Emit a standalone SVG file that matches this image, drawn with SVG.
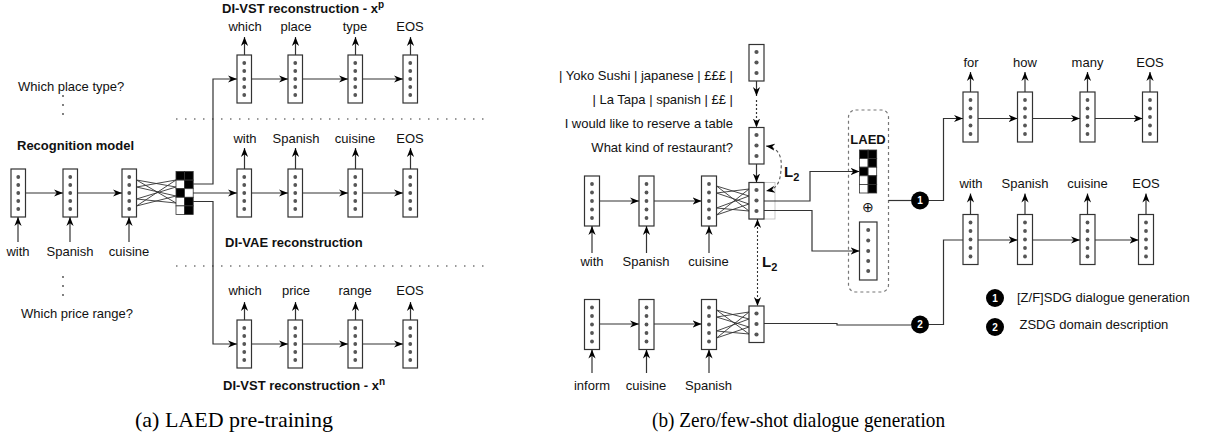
<svg xmlns="http://www.w3.org/2000/svg" xmlns:xlink="http://www.w3.org/1999/xlink" width="1211" height="441" viewBox="0 0 1211 441">
<style>
text{font-family:"Liberation Sans",Arial,sans-serif;fill:#111}
.lb{font-size:13px;text-anchor:middle}
.lt{font-size:13px}
.bd{font-size:13px;font-weight:bold}
.cap{font-family:"Liberation Serif","Times New Roman",serif;font-size:22px;fill:#000}
.cell{fill:#fff;stroke:#333;stroke-width:1.2}
.dot{fill:#555}
.ln{fill:none;stroke:#333;stroke-width:1.2}
.ar{fill:none;stroke:#333;stroke-width:1.2;marker-end:url(#ah)}
.x{stroke:#333;stroke-width:0.9}
.sep{stroke:#777;stroke-width:1.5;stroke-dasharray:1.5 7.5}
.blk{fill:#000;stroke:#333;stroke-width:0.8}
.wht{fill:#fff;stroke:#333;stroke-width:0.8}
.num{font-size:10px;font-weight:bold;fill:#fff;text-anchor:middle}
</style>
<defs>
<marker id="ah" viewBox="0 0 10 10" refX="10" refY="5" markerWidth="9" markerHeight="9" markerUnits="userSpaceOnUse" orient="auto-start-reverse">
<path d="M0,1 L10,5 L0,9 L3,5 z" fill="#000"/>
</marker>
<g id="c48"><rect class="cell" x="0" y="0" width="14.5" height="48"/><circle class="dot" cx="7.25" cy="8" r="1.9"/><circle class="dot" cx="7.25" cy="16" r="1.9"/><circle class="dot" cx="7.25" cy="24" r="1.9"/><circle class="dot" cx="7.25" cy="32" r="1.9"/><circle class="dot" cx="7.25" cy="40" r="1.9"/></g>
<g id="c50"><rect class="cell" x="0" y="0" width="15" height="50"/><circle class="dot" cx="7.5" cy="8" r="1.9"/><circle class="dot" cx="7.5" cy="16.5" r="1.9"/><circle class="dot" cx="7.5" cy="25" r="1.9"/><circle class="dot" cx="7.5" cy="33.5" r="1.9"/><circle class="dot" cx="7.5" cy="42" r="1.9"/></g>
<g id="c3"><rect class="cell" x="0" y="0" width="15" height="36.5"/><circle class="dot" cx="7.5" cy="7.5" r="2.1"/><circle class="dot" cx="7.5" cy="18" r="2.1"/><circle class="dot" cx="7.5" cy="28.5" r="2.1"/></g>
<g id="grid"><rect class="blk" x="0" y="0" width="8.6" height="8.6"/><rect class="blk" x="8.6" y="0" width="8.6" height="8.6"/><rect class="wht" x="0" y="8.6" width="8.6" height="8.6"/><rect class="blk" x="8.6" y="8.6" width="8.6" height="8.6"/><rect class="blk" x="0" y="17.2" width="8.6" height="8.6"/><rect class="wht" x="8.6" y="17.2" width="8.6" height="8.6"/><rect class="wht" x="0" y="25.8" width="8.6" height="8.6"/><rect class="blk" x="8.6" y="25.8" width="8.6" height="8.6"/><rect class="wht" x="0" y="34.4" width="8.6" height="8.6"/><rect class="blk" x="8.6" y="34.4" width="8.6" height="8.6"/></g>
</defs>

<!-- ===== (a) LAED pre-training ===== -->
<g id="a-texts">
<text class="lt" x="18" y="91">Which place type?</text>
<circle cx="63" cy="96" r="0.9" fill="#444"/><circle cx="63" cy="105" r="0.9" fill="#444"/><circle cx="63" cy="114" r="0.9" fill="#444"/>
<text class="bd" x="17" y="150">Recognition model</text>
<circle cx="63" cy="277" r="0.9" fill="#444"/><circle cx="63" cy="286" r="0.9" fill="#444"/><circle cx="63" cy="295" r="0.9" fill="#444"/>
<text class="lt" x="21" y="318">Which price range?</text>
<text class="bd" x="222" y="13">DI-VST reconstruction - x<tspan font-size="10" dy="-5">p</tspan></text>
<text class="bd" x="225" y="247">DI-VAE reconstruction</text>
<text class="bd" x="223" y="390">DI-VST reconstruction - x<tspan font-size="10" dy="-5">n</tspan></text>
<line class="sep" x1="176" y1="119" x2="484" y2="119"/>
<line class="sep" x1="176" y1="266" x2="484" y2="266"/>
</g>

<g id="a-enc-1"><use xlink:href="#c48" x="11" y="169"/><text class="lb" x="18" y="255.5">with</text></g>
<g id="a-enc-2"><use xlink:href="#c48" x="63" y="169"/><text class="lb" x="70" y="255.5">Spanish</text></g>
<g id="a-enc-3"><use xlink:href="#c48" x="122" y="169"/><text class="lb" x="129" y="255.5">cuisine</text></g>
<g id="a-latent"><use xlink:href="#grid" x="176" y="171.5"/></g>

<g id="a-top-1"><use xlink:href="#c48" x="237" y="55"/><text class="lb" x="245" y="31">which</text></g>
<g id="a-top-2"><use xlink:href="#c48" x="288" y="55"/><text class="lb" x="296" y="31">place</text></g>
<g id="a-top-3"><use xlink:href="#c48" x="348" y="55"/><text class="lb" x="355" y="31">type</text></g>
<g id="a-top-4"><use xlink:href="#c48" x="403" y="55"/><text class="lb" x="410" y="31">EOS</text></g>

<g id="a-mid-1"><use xlink:href="#c48" x="237" y="169"/><text class="lb" x="245" y="143">with</text></g>
<g id="a-mid-2"><use xlink:href="#c48" x="288" y="169"/><text class="lb" x="296" y="143">Spanish</text></g>
<g id="a-mid-3"><use xlink:href="#c48" x="348" y="169"/><text class="lb" x="355" y="143">cuisine</text></g>
<g id="a-mid-4"><use xlink:href="#c48" x="403" y="169"/><text class="lb" x="410" y="143">EOS</text></g>

<g id="a-bot-1"><use xlink:href="#c48" x="237" y="320"/><text class="lb" x="245" y="294.5">which</text></g>
<g id="a-bot-2"><use xlink:href="#c48" x="288" y="320"/><text class="lb" x="296" y="294.5">price</text></g>
<g id="a-bot-3"><use xlink:href="#c48" x="348" y="320"/><text class="lb" x="355" y="294.5">range</text></g>
<g id="a-bot-4"><use xlink:href="#c48" x="403" y="320"/><text class="lb" x="410" y="294.5">EOS</text></g>

<!-- ===== (b) Zero/few-shot ===== -->
<g id="b-texts">
<text class="lt" x="733" y="80" text-anchor="end">| Yoko Sushi | japanese | £££ |</text>
<text class="lt" x="733" y="104" text-anchor="end">| La Tapa | spanish | ££ |</text>
<text class="lt" x="733" y="128" text-anchor="end">I would like to reserve a table</text>
<text class="lt" x="733" y="152" text-anchor="end">What kind of restaurant?</text>
<text font-size="15" font-weight="bold" x="784" y="177">L<tspan font-size="11" dy="4">2</tspan></text>
<text font-size="15" font-weight="bold" x="762" y="267">L<tspan font-size="11" dy="4">2</tspan></text>
</g>

<g id="b-ctx-1"><use xlink:href="#c3" x="749" y="44.5"/></g>
<g id="b-ctx-2"><use xlink:href="#c3" x="749" y="127.5"/></g>
<g id="b-enc-c"><rect x="749" y="182.5" width="26" height="36.5" fill="none" stroke="#bbb" stroke-width="0.8"/><use xlink:href="#c3" x="749" y="182.5"/></g>

<g id="b-enc-1"><use xlink:href="#c50" x="584.5" y="176"/><text class="lb" x="592" y="266">with</text></g>
<g id="b-enc-2"><use xlink:href="#c50" x="639" y="176"/><text class="lb" x="646" y="266">Spanish</text></g>
<g id="b-enc-3"><use xlink:href="#c50" x="701.5" y="176"/><text class="lb" x="708.5" y="266">cuisine</text></g>

<g id="b-dom-1"><use xlink:href="#c50" x="584.5" y="299.5"/><text class="lb" x="592" y="390">inform</text></g>
<g id="b-dom-2"><use xlink:href="#c50" x="639" y="299.5"/><text class="lb" x="646" y="390">cuisine</text></g>
<g id="b-dom-3"><use xlink:href="#c50" x="701.5" y="299.5"/><text class="lb" x="708.5" y="390">Spanish</text></g>
<g id="b-dom-c"><use xlink:href="#c3" x="749" y="306"/></g>

<g id="b-laed">
<rect x="848.5" y="110" width="40" height="182" rx="7" fill="none" stroke="#777" stroke-width="1.2" stroke-dasharray="3 3"/>
<text class="bd" x="868" y="144" text-anchor="middle">LAED</text>
<use xlink:href="#grid" x="859.5" y="150"/>
<text x="868" y="212" font-family="DejaVu Sans,sans-serif" font-size="14" text-anchor="middle" fill="#333">⊕</text>
<rect class="cell" x="859.5" y="222" width="17.5" height="58"/>
<circle class="dot" cx="868.2" cy="230" r="2"/><circle class="dot" cx="868.2" cy="240.5" r="2"/><circle class="dot" cx="868.2" cy="251" r="2"/><circle class="dot" cx="868.2" cy="261" r="2"/><circle class="dot" cx="868.2" cy="271" r="2"/>
</g>

<g id="b-c1"><circle cx="920" cy="200.5" r="9" fill="#000"/><text class="num" x="920" y="204.2">1</text></g>
<g id="b-c2"><circle cx="920" cy="324.5" r="9" fill="#000"/><text class="num" x="920" y="328.2">2</text></g>

<g id="b-top-1"><use xlink:href="#c50" x="963" y="92"/><text class="lb" x="971" y="66.5">for</text></g>
<g id="b-top-2"><use xlink:href="#c50" x="1017.5" y="92"/><text class="lb" x="1025" y="66.5">how</text></g>
<g id="b-top-3"><use xlink:href="#c50" x="1080" y="92"/><text class="lb" x="1087.5" y="66.5">many</text></g>
<g id="b-top-4"><use xlink:href="#c50" x="1142.5" y="92"/><text class="lb" x="1150" y="66.5">EOS</text></g>

<g id="b-bot-1"><use xlink:href="#c50" x="963" y="214.5"/><text class="lb" x="971" y="188">with</text></g>
<g id="b-bot-2"><use xlink:href="#c50" x="1017.5" y="214.5"/><text class="lb" x="1025" y="188">Spanish</text></g>
<g id="b-bot-3"><use xlink:href="#c50" x="1080" y="214.5"/><text class="lb" x="1087.5" y="188">cuisine</text></g>
<g id="b-bot-4"><use xlink:href="#c50" x="1138.5" y="214.5"/><text class="lb" x="1146" y="188">EOS</text></g>

<g id="b-legend">
<circle cx="995" cy="298" r="9" fill="#000"/><text class="num" x="995" y="301.7">1</text>
<text class="lt" x="1017" y="302">[Z/F]SDG dialogue generation</text>
<circle cx="995" cy="327" r="9" fill="#000"/><text class="num" x="995" y="330.7">2</text>
<text class="lt" x="1019.5" y="329">ZSDG domain description</text>
</g>

<g id="captions">
<text class="cap" x="135" y="427">(a) LAED pre-training</text>
<text class="cap" x="652" y="427" textLength="293" lengthAdjust="spacingAndGlyphs">(b) Zero/few-shot dialogue generation</text>
</g>

<g id="connectors">
<!-- (a) input arrows -->
<path class="ar" d="M18,242 V217"/>
<path class="ar" d="M70,242 V217"/>
<path class="ar" d="M129,242 V217"/>
<path class="ar" d="M25.5,193 H63"/>
<path class="ar" d="M77.5,193 H122"/>
<!-- (a) cross lines -->
<line class="x" x1="136.5" y1="180" x2="176" y2="187"/>
<line class="x" x1="136.5" y1="180" x2="176" y2="203"/>
<line class="x" x1="136.5" y1="187" x2="176" y2="180"/>
<line class="x" x1="136.5" y1="187" x2="176" y2="196"/>
<line class="x" x1="136.5" y1="199" x2="176" y2="187"/>
<line class="x" x1="136.5" y1="199" x2="176" y2="203"/>
<line class="x" x1="136.5" y1="206" x2="176" y2="180"/>
<line class="x" x1="136.5" y1="206" x2="176" y2="196"/>
<!-- (a) latent to decoders -->
<path class="ar" d="M193,184 H213 V79 H237"/>
<path class="ar" d="M193,193 H237"/>
<path class="ar" d="M193,201.5 H213 V344 H237"/>
<!-- (a) top decoder -->
<path class="ar" d="M251.5,79 H288"/><path class="ar" d="M302.5,79 H348"/><path class="ar" d="M362.5,79 H403"/>
<path class="ar" d="M244.5,55 V37"/><path class="ar" d="M295.5,55 V37"/><path class="ar" d="M355.5,55 V37"/><path class="ar" d="M410.5,55 V37"/>
<!-- (a) middle decoder -->
<path class="ar" d="M251.5,193 H288"/><path class="ar" d="M302.5,193 H348"/><path class="ar" d="M362.5,193 H403"/>
<path class="ar" d="M244.5,169 V148"/><path class="ar" d="M295.5,169 V148"/><path class="ar" d="M355.5,169 V148"/><path class="ar" d="M410.5,169 V148"/>
<!-- (a) bottom decoder -->
<path class="ar" d="M251.5,344 H288"/><path class="ar" d="M302.5,344 H348"/><path class="ar" d="M362.5,344 H403"/>
<path class="ar" d="M244.5,320 V302"/><path class="ar" d="M295.5,320 V302"/><path class="ar" d="M355.5,320 V302"/><path class="ar" d="M410.5,320 V302"/>

<!-- (b) context chain -->
<path class="ar" d="M756.5,81 V96"/>
<path class="ar" d="M756.5,100 V127.5" stroke-dasharray="2 2"/>
<path class="ar" d="M756.5,164 V182.5"/>
<path d="M766,146 C781,148 782,160 781,170 C780,184 776,189 766,191" fill="none" stroke="#555" stroke-width="1.1" stroke-dasharray="3 2.5" marker-start="url(#ah)" marker-end="url(#ah)"/>
<path d="M757.5,219 V306" fill="none" stroke="#333" stroke-width="1.1" stroke-dasharray="2 2" marker-start="url(#ah)" marker-end="url(#ah)"/>
<!-- (b) encoder -->
<path class="ar" d="M592,253 V226"/><path class="ar" d="M646.5,253 V226"/><path class="ar" d="M709,253 V226"/>
<path class="ar" d="M599.5,201 H639"/><path class="ar" d="M654,201 H701.5"/>
<line class="x" x1="716.5" y1="186" x2="749" y2="196"/>
<line class="x" x1="716.5" y1="186" x2="749" y2="211"/>
<line class="x" x1="716.5" y1="193" x2="749" y2="189"/>
<line class="x" x1="716.5" y1="193" x2="749" y2="204"/>
<line class="x" x1="716.5" y1="208" x2="749" y2="196"/>
<line class="x" x1="716.5" y1="208" x2="749" y2="211"/>
<line class="x" x1="716.5" y1="215" x2="749" y2="189"/>
<line class="x" x1="716.5" y1="215" x2="749" y2="204"/>
<!-- (b) domain encoder -->
<path class="ar" d="M592,373 V349.5"/><path class="ar" d="M646.5,373 V349.5"/><path class="ar" d="M709,373 V349.5"/>
<path class="ar" d="M599.5,324 H639"/><path class="ar" d="M654,324 H701.5"/>
<line class="x" x1="716.5" y1="310" x2="749" y2="319"/>
<line class="x" x1="716.5" y1="310" x2="749" y2="334"/>
<line class="x" x1="716.5" y1="317" x2="749" y2="312"/>
<line class="x" x1="716.5" y1="317" x2="749" y2="327"/>
<line class="x" x1="716.5" y1="331" x2="749" y2="319"/>
<line class="x" x1="716.5" y1="331" x2="749" y2="334"/>
<line class="x" x1="716.5" y1="338" x2="749" y2="312"/>
<line class="x" x1="716.5" y1="338" x2="749" y2="327"/>
<!-- (b) to LAED -->
<path class="ar" d="M764,201 H810 V171.5 H859.5"/>
<path class="ar" d="M764,210.5 H812 V251 H859.5"/>
<path class="ln" d="M888.5,200.5 H911"/>
<path class="ar" d="M929,200.5 H943.5 V118.5 H963"/>
<path class="ln" d="M764,323.5 H837 V325 H911"/>
<path class="ln" d="M929,324.5 H943.5 V240 H963"/>
<!-- (b) top decoder -->
<path class="ar" d="M978,118.5 H1017.5"/><path class="ar" d="M1032.5,118.5 H1080"/><path class="ar" d="M1095,118.5 H1142.5"/>
<path class="ar" d="M970.5,92 V72"/><path class="ar" d="M1025,92 V72"/><path class="ar" d="M1087.5,92 V72"/><path class="ar" d="M1150,92 V72"/>
<!-- (b) bottom decoder -->
<path class="ar" d="M978,240 H1017.5"/><path class="ar" d="M1032.5,240 H1080"/><path class="ar" d="M1095,240 H1138.5"/>
<path class="ar" d="M970.5,214.5 V193.5"/><path class="ar" d="M1025,214.5 V193.5"/><path class="ar" d="M1087.5,214.5 V193.5"/><path class="ar" d="M1146,214.5 V193.5"/>
</g>
</svg>
